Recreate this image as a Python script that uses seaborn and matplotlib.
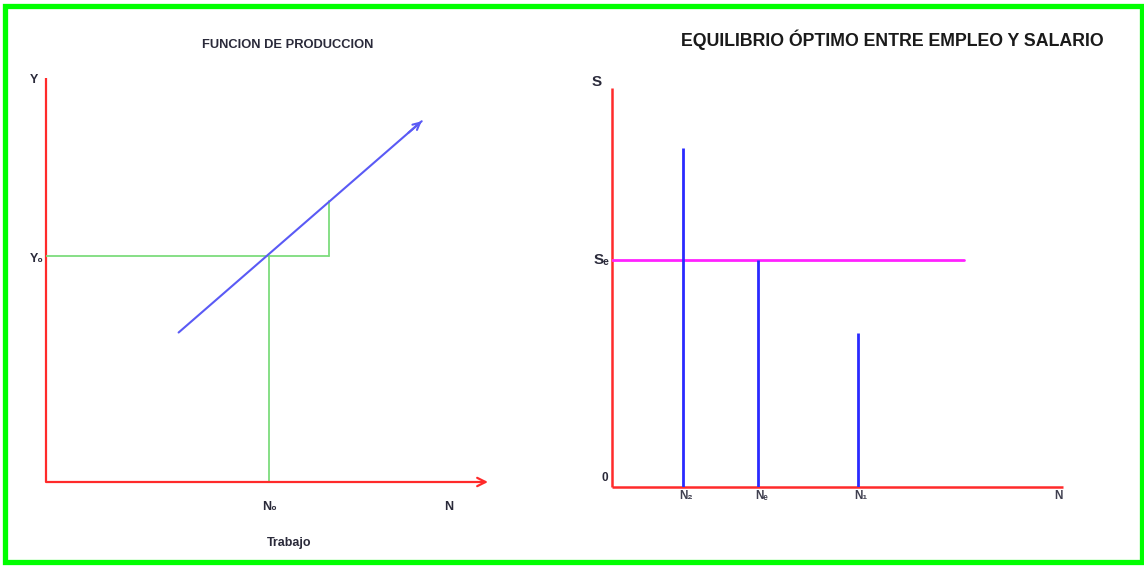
import matplotlib
matplotlib.use("Agg")
import matplotlib.pyplot as plt
import seaborn as sns
import pandas as pd
from matplotlib.patches import Rectangle

sns.set_style("white")
plt.rcParams["font.family"] = ["Liberation Sans", "DejaVu Sans"]

# --- Production function panel (labour N vs output Y) ---
prod_N = [3.0, 8.5]            # ends of the production line
prod_Y = [3.7, 8.93]
N0 = 5.05                      # employment level N0
Y0 = 5.6                       # output level Y0
step_N = [N0, 6.4]             # horizontal run of the slope triangle
step_Y = [Y0, 6.95]            # rise of the slope triangle

# --- Employment / wage equilibrium panel ---
emp_N = [1.57, 3.24, 5.45]     # N2, Ne, N1
emp_S = [8.5, 5.69, 3.86]      # wage reached at each employment level
emp_labels = ["N₂", "Nₑ", "N₁"]
Se = 5.69                      # equilibrium wage
Se_end = 7.8                   # extent of the wage line

W, H = 1144, 566
fig = plt.figure(figsize=(W / 100, H / 100), dpi=100)
fig.patch.set_facecolor("white")


def px_axes(x0, y_top, x1, y_bottom):
    return fig.add_axes([x0 / W, 1 - y_bottom / H, (x1 - x0) / W, (y_bottom - y_top) / H])


RED = "#ff2a2a"
TXT = "#2a2a3a"

# ---------------- left panel ----------------
axL = px_axes(46, 78, 488, 482)
axL.set_xlim(0, 10)
axL.set_ylim(0, 10)
axL.axis("off")

axL.plot([0, 0], [0, 10], color=RED, lw=1.6, clip_on=False, solid_capstyle="butt")
axL.annotate("", xy=(10, 0), xytext=(0, 0),
             arrowprops=dict(arrowstyle="->,head_length=0.6,head_width=0.3", color=RED, lw=1.6,
                             shrinkA=0, shrinkB=0), annotation_clip=False)

green = "#7ddc7d"
axL.plot([0, step_N[1]], [Y0, Y0], color=green, lw=1.3)
axL.plot([N0, N0], [0, Y0], color=green, lw=1.3)
axL.plot([step_N[1], step_N[1]], [Y0, step_Y[1]], color=green, lw=1.3)

prod_df = pd.DataFrame({"N": prod_N, "Y": prod_Y})
sns.lineplot(data=prod_df, x="N", y="Y", ax=axL, color="#5a5af5", lw=1.5, legend=False)
slope = (prod_Y[1] - prod_Y[0]) / (prod_N[1] - prod_N[0])
axL.annotate("", xy=(prod_N[1], prod_Y[1]), xytext=(prod_N[1] - 0.3, prod_Y[1] - 0.3 * slope),
             arrowprops=dict(arrowstyle="->,head_length=0.5,head_width=0.25", color="#5a5af5", lw=1.5,
                             shrinkA=0, shrinkB=0))
axL.set_xlabel("")
axL.set_ylabel("")

lab = dict(fontsize=9, fontweight="bold", color=TXT)
axL.text(-0.27, 9.95, "Y", ha="center", va="center", **lab)
axL.text(-0.05, Y0 - 0.08, "Y₀", ha="right", va="center", **lab)
axL.text(N0, -0.62, "N₀", ha="center", va="center", **lab)
axL.text(9.12, -0.62, "N", ha="center", va="center", **lab)
axL.text(5.5, -1.5, "Trabajo", ha="center", va="center", fontsize=9, fontweight="bold", color=TXT)

fig.text(288 / W, 1 - 45 / H, "FUNCION DE PRODUCCION", ha="center", va="center",
         fontsize=9.3, fontweight="bold", color=TXT)

# ---------------- right panel ----------------
axR = px_axes(612, 88, 1063, 487)
axR.set_xlim(0, 10)
axR.set_ylim(0, 10)
axR.axis("off")

axR.plot([0, 0], [0, 10], color=RED, lw=1.8, clip_on=False, solid_capstyle="butt")
axR.plot([0, 10], [0, 0], color=RED, lw=1.8, clip_on=False, solid_capstyle="butt")

wage_df = pd.DataFrame({"N": [0, Se_end], "S": [Se, Se]})
sns.lineplot(data=wage_df, x="N", y="S", ax=axR, color="#ff22ff", lw=2.0, legend=False)
axR.vlines(emp_N, 0, emp_S, color="#2a2aff", lw=2.0)
axR.set_xlabel("")
axR.set_ylabel("")

labR = dict(fontsize=11, fontweight="bold", color=TXT)
axR.text(-0.33, 10.15, "S", ha="center", va="center", **labR)
axR.text(-0.05, Se, "Sₑ", ha="right", va="center", **labR)
axR.text(-0.09, 0.22, "0", ha="right", va="center", fontsize=8.5, fontweight="bold", color=TXT)
for x, t in zip(emp_N, emp_labels):
    axR.text(x + 0.07, -0.22, t, ha="center", va="center", fontsize=8.5, fontweight="bold", color="#404050")
axR.text(9.9, -0.22, "N", ha="center", va="center", fontsize=8.5, fontweight="bold", color="#404050")

fig.text(892 / W, 1 - 40 / H, "EQUILIBRIO ÓPTIMO ENTRE EMPLEO Y SALARIO", ha="center", va="center",
         fontsize=12.8, fontweight="bold", color="#1a1a1a")

# green frame around the whole figure
fig.add_artist(Rectangle((4.5 / W, 1 - 561.5 / H), 1137 / W, 556 / H, transform=fig.transFigure,
                         fill=False, ec="#00ff00", lw=3.8))

fig.savefig("out.png", dpi=100, facecolor="white")
